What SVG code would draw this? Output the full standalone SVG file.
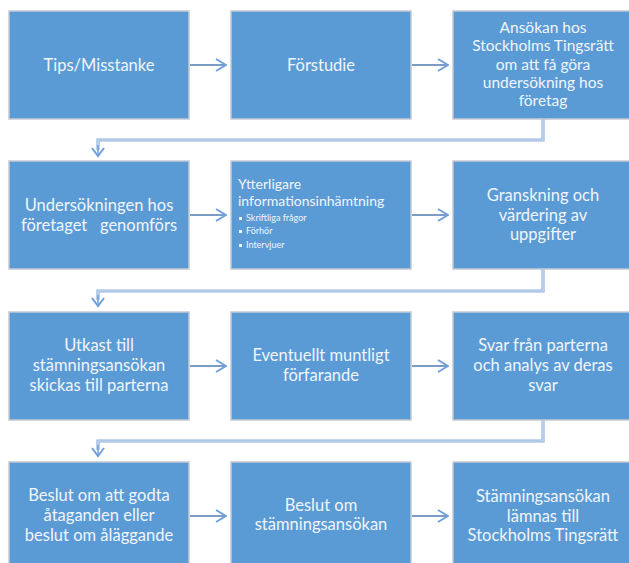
<svg xmlns="http://www.w3.org/2000/svg" width="629" height="563" viewBox="0 0 629 563">
<style>
.box{fill:#5b9bd5;stroke:#c3cad3;stroke-width:1.5}
.t{font-family:Lato,"Open Sans","Liberation Sans",sans-serif;font-size:16.5px;fill:#f0f5fb;text-anchor:middle}
.t5{font-family:Lato,"Open Sans","Liberation Sans",sans-serif;font-size:15.5px;fill:#f0f5fb;text-anchor:middle}
.tl{font-family:Lato,"Open Sans","Liberation Sans",sans-serif;font-size:14px;fill:#f0f5fb}
.tb{font-family:Lato,"Open Sans","Liberation Sans",sans-serif;font-size:9px;fill:#f0f5fb}
.h{stroke:#7c9cc6;stroke-width:2;fill:none}
.ho{stroke:#8fb1dc;stroke-width:3.2;fill:none}
.hi{stroke:#d3e2f4;stroke-width:1.2;fill:none}
.ah{fill:none;stroke:#6fa0dc;stroke-width:2}
</style>
<defs>
<marker id="ch" viewBox="0 0 12 14" refX="11" refY="7" markerWidth="12" markerHeight="14" markerUnits="userSpaceOnUse" orient="auto">
<path d="M1,1 L11,7 L1,13" fill="none" stroke="#6fa0dc" stroke-width="2"/>
</marker>
</defs>
<g id="connectors">
<line class="h" x1="190" y1="65" x2="226" y2="65" marker-end="url(#ch)"/>
<line class="h" x1="412" y1="65" x2="448" y2="65" marker-end="url(#ch)"/>
<line class="h" x1="190" y1="215" x2="226" y2="215" marker-end="url(#ch)"/>
<line class="h" x1="412" y1="215" x2="448" y2="215" marker-end="url(#ch)"/>
<line class="h" x1="190" y1="366" x2="226" y2="366" marker-end="url(#ch)"/>
<line class="h" x1="412" y1="366" x2="448" y2="366" marker-end="url(#ch)"/>
<line class="h" x1="190" y1="516" x2="226" y2="516" marker-end="url(#ch)"/>
<line class="h" x1="412" y1="516" x2="448" y2="516" marker-end="url(#ch)"/>
<path class="ho" d="M543,119 V140 H98 V150"/>
<path class="hi" d="M543,119 V140 H98 V150"/>
<path class="ah" d="M92,148 L98,156 L104,148"/>
<line x1="98" y1="145" x2="98" y2="155" stroke="#6fa0dc" stroke-width="1.5"/>
<path class="ho" d="M543,269 V291 H98 V300"/>
<path class="hi" d="M543,269 V291 H98 V300"/>
<path class="ah" d="M92,298 L98,306 L104,298"/>
<line x1="98" y1="295" x2="98" y2="305" stroke="#6fa0dc" stroke-width="1.5"/>
<path class="ho" d="M543,420 V441 H98 V450"/>
<path class="hi" d="M543,420 V441 H98 V450"/>
<path class="ah" d="M92,448 L98,456 L104,448"/>
<line x1="98" y1="445" x2="98" y2="455" stroke="#6fa0dc" stroke-width="1.5"/>
</g>
<g id="n1"><rect class="box" x="9" y="11" width="180" height="108"/>
<text class="t" x="99" y="71">Tips/Misstanke</text></g>
<g id="n2"><rect class="box" x="231" y="11" width="180" height="108"/>
<text class="t" x="321" y="71">Förstudie</text></g>
<g id="n3"><rect class="box" x="453" y="11" width="180" height="108"/>
<text class="t5" x="543" y="33">Ansökan hos</text>
<text class="t5" x="543" y="51">Stockholms Tingsrätt</text>
<text class="t5" x="543" y="70">om att få göra</text>
<text class="t5" x="543" y="88">undersökning hos</text>
<text class="t5" x="543" y="106">företag</text></g>
<g id="n4"><rect class="box" x="9" y="161" width="180" height="108"/>
<text class="t" x="99" y="211">Undersökningen hos</text>
<text class="t" x="99" y="231" xml:space="preserve">företaget   genomförs</text></g>
<g id="n5"><rect class="box" x="231" y="161" width="180" height="108"/>
<text class="tl" x="238" y="189">Ytterligare</text>
<text class="tl" x="238" y="206">informationsinhämtning</text>
<rect x="239" y="217" width="3" height="3" fill="#f0f5fb"/>
<text class="tb" x="246" y="221">Skriftliga frågor</text>
<rect x="239" y="230" width="3" height="3" fill="#f0f5fb"/>
<text class="tb" x="246" y="234">Förhör</text>
<rect x="239" y="244" width="3" height="3" fill="#f0f5fb"/>
<text class="tb" x="246" y="248">Intervjuer</text></g>
<g id="n6"><rect class="box" x="453" y="161" width="180" height="108"/>
<text class="t" x="543" y="201">Granskning och</text>
<text class="t" x="543" y="221">värdering av</text>
<text class="t" x="543" y="240">uppgifter</text></g>
<g id="n7"><rect class="box" x="9" y="312" width="180" height="108"/>
<text class="t" x="99" y="351">Utkast till</text>
<text class="t" x="99" y="371">stämningsansökan</text>
<text class="t" x="99" y="391">skickas till parterna</text></g>
<g id="n8"><rect class="box" x="231" y="312" width="180" height="108"/>
<text class="t" x="321" y="361">Eventuellt muntligt</text>
<text class="t" x="321" y="381">förfarande</text></g>
<g id="n9"><rect class="box" x="453" y="312" width="180" height="108"/>
<text class="t" x="543" y="351">Svar från parterna</text>
<text class="t" x="543" y="371">och analys av deras</text>
<text class="t" x="543" y="391">svar</text></g>
<g id="n10"><rect class="box" x="9" y="462" width="180" height="108"/>
<text class="t" x="99" y="501">Beslut om att godta</text>
<text class="t" x="99" y="521">åtaganden eller</text>
<text class="t" x="99" y="541">beslut om åläggande</text></g>
<g id="n11"><rect class="box" x="231" y="462" width="180" height="108"/>
<text class="t" x="321" y="511">Beslut om</text>
<text class="t" x="321" y="530">stämningsansökan</text></g>
<g id="n12"><rect class="box" x="453" y="462" width="180" height="108"/>
<text class="t" x="543" y="502">Stämningsansökan</text>
<text class="t" x="543" y="522">lämnas till</text>
<text class="t" x="543" y="541">Stockholms Tingsrätt</text></g>
</svg>
